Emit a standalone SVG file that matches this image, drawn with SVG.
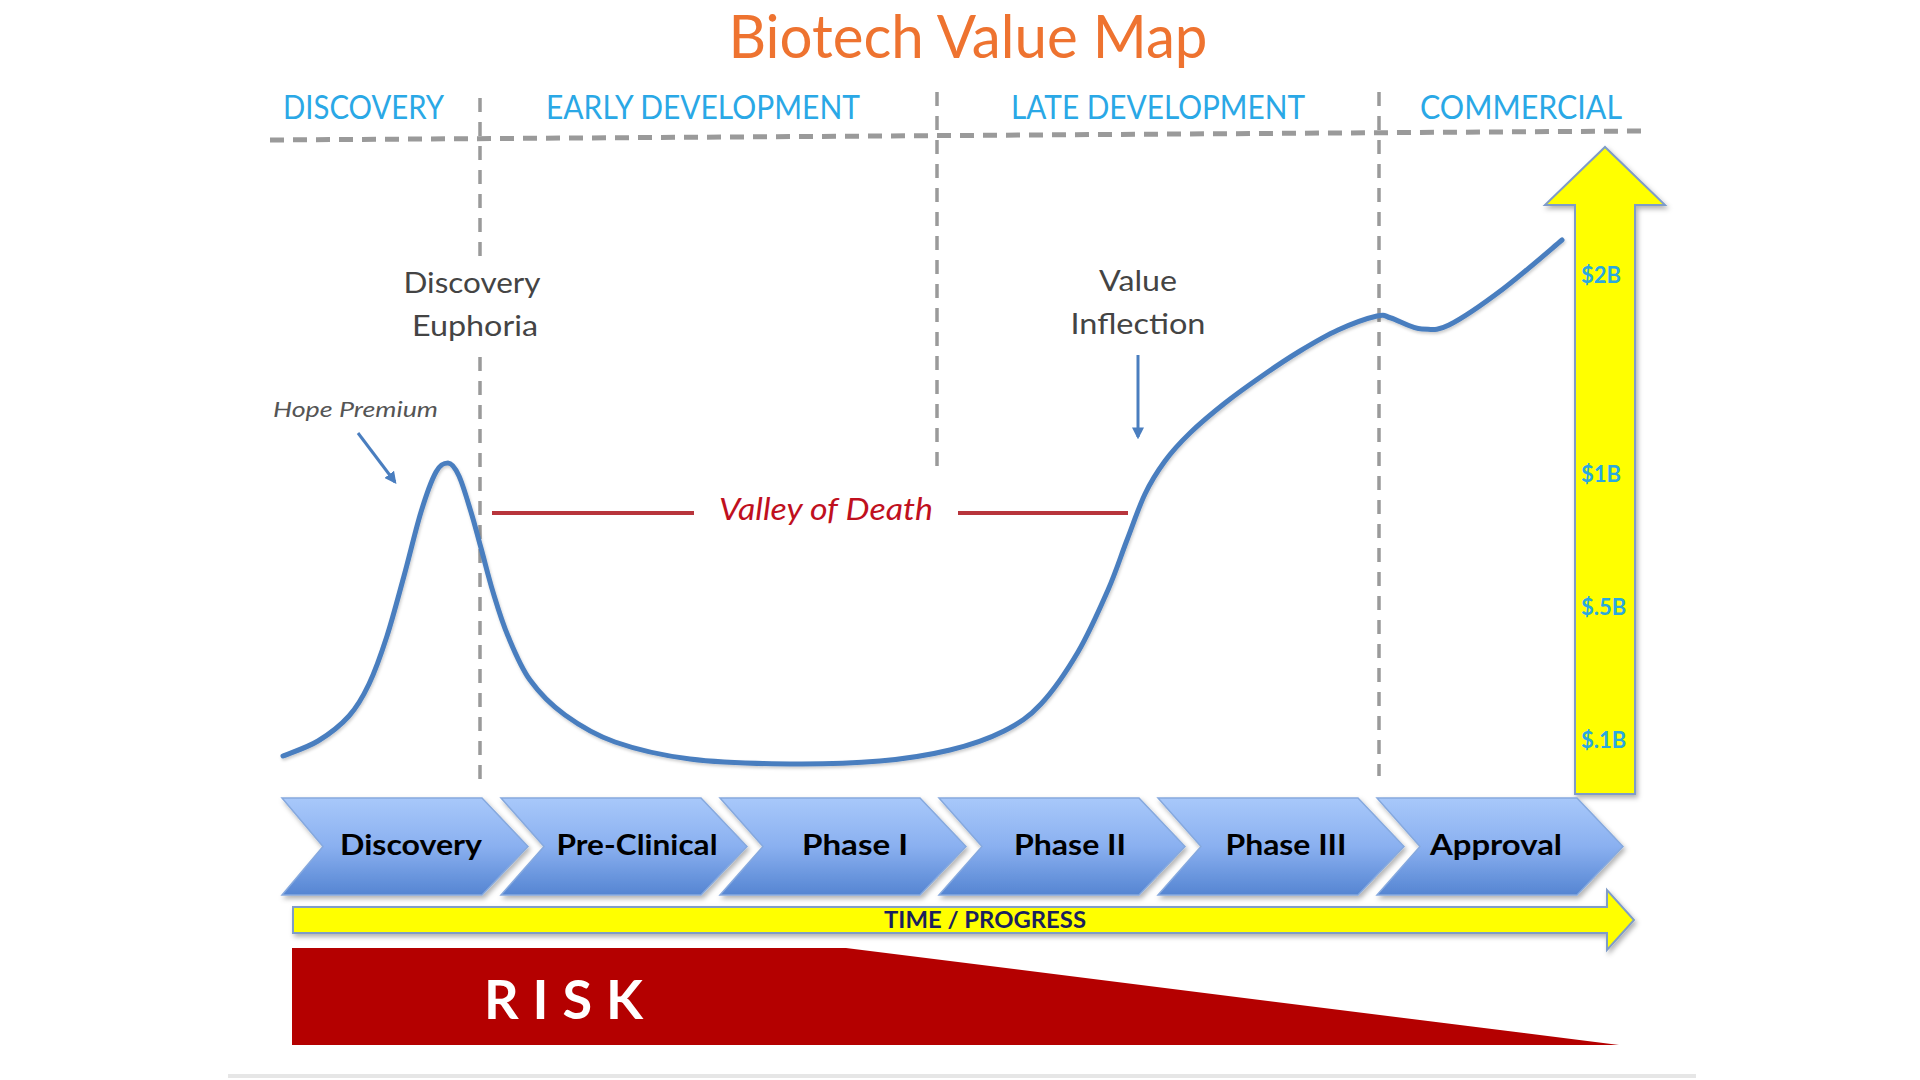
<svg xmlns="http://www.w3.org/2000/svg" width="1920" height="1080" viewBox="0 0 1920 1080">
<defs>
<style>
text{font-family:Lato,"Open Sans","Liberation Sans",sans-serif}
.title{font-size:60px;fill:#EE7330}
.phase{font-size:33px;fill:#2AA8E6}
.note{font-size:29px;fill:#444}
.hope{font-size:22px;fill:#555;font-style:italic}
.valley{font-size:31px;fill:#C0101E;font-style:italic}
.money{font-size:22px;font-weight:bold;fill:#2AA8E0}
.chev{fill:url(#chevGrad);stroke:#86A9DE;stroke-width:1.5;filter:url(#shadow)}
.chevtxt{font-size:29px;font-weight:bold;fill:#000;text-anchor:middle}
.vdash{stroke:#9A9A9A;stroke-width:3.5;stroke-dasharray:14 10;fill:none}
.hdash{stroke:#9A9A9A;stroke-width:5;stroke-dasharray:14 9;fill:none}
.curve{fill:none;stroke:#4A7EBF;stroke-width:5;stroke-linecap:round;filter:url(#shadow2)}
.ptr{stroke:#4A7EBF;stroke-width:3;fill:none;marker-end:url(#ah)}
.vod{stroke:#B8353C;stroke-width:4}
.yel{fill:#FFFF00;stroke:#7F9CC8;stroke-width:2;filter:url(#shadow)}
</style>
<linearGradient id="chevGrad" x1="0" y1="0" x2="0" y2="1">
<stop offset="0" stop-color="#A8C8FA"/>
<stop offset="0.5" stop-color="#8AB0F0"/>
<stop offset="1" stop-color="#5585D2"/>
</linearGradient>
<filter id="shadow" x="-5%" y="-10%" width="115%" height="130%">
<feDropShadow dx="2" dy="3" stdDeviation="2.5" flood-color="#000" flood-opacity="0.3"/>
</filter>
<filter id="shadow2" x="-5%" y="-5%" width="110%" height="115%">
<feDropShadow dx="1" dy="2" stdDeviation="1.5" flood-color="#000" flood-opacity="0.2"/>
</filter>
<marker id="ah" viewBox="0 0 10 10" refX="8" refY="5" markerWidth="4" markerHeight="4" orient="auto">
<path d="M0,0 L10,5 L0,10 z" fill="#4A7EBF"/>
</marker>
</defs>
<rect width="1920" height="1080" fill="#FFFFFF"/>

<g id="title">
<text class="title" x="968" y="58" text-anchor="middle" textLength="479" lengthAdjust="spacingAndGlyphs">Biotech Value Map</text>
</g>

<g id="stage-headers">
<text class="phase" x="283" y="119" textLength="161" lengthAdjust="spacingAndGlyphs">DISCOVERY</text>
<text class="phase" x="546" y="119" textLength="314" lengthAdjust="spacingAndGlyphs">EARLY DEVELOPMENT</text>
<text class="phase" x="1011" y="119" textLength="294" lengthAdjust="spacingAndGlyphs">LATE DEVELOPMENT</text>
<text class="phase" x="1420" y="119" textLength="202" lengthAdjust="spacingAndGlyphs">COMMERCIAL</text>
</g>

<g id="grid-lines">
<line class="hdash" x1="270" y1="140" x2="1641" y2="131"/>
<line class="vdash" x1="480" y1="98" x2="480" y2="256"/>
<line class="vdash" x1="480" y1="357" x2="480" y2="784"/>
<line class="vdash" x1="937" y1="92" x2="937" y2="471"/>
<line class="vdash" x1="1379" y1="92" x2="1379" y2="776"/>
</g>

<g id="value-axis">
<polygon class="yel" points="1575,794 1575,205 1545,205 1605,147 1665,205 1635,205 1635,794"/>
<text class="money" x="1581" y="283">$2B</text>
<text class="money" x="1581" y="482">$1B</text>
<text class="money" x="1581" y="615">$.5B</text>
<text class="money" x="1581" y="748">$.1B</text>
</g>

<g id="connectors">
<path class="curve" d="M283,756 C288.8,753.5 307,747.7 318,741 C329,734.3 340.5,725.5 349,716 C357.5,706.5 362.7,697.3 369,684 C375.3,670.7 381.2,654 387,636 C392.8,618 398.3,596.7 404,576 C409.7,555.3 415.7,529.3 421,512 C426.3,494.7 431.5,480.2 436,472 C440.5,463.8 444.2,463 448,463 C451.8,463 455.2,467.8 459,476 C462.8,484.2 467.3,500 471,512 C474.7,524 477.3,534.7 481,548 C484.7,561.3 488.5,577.3 493,592 C497.5,606.7 501.8,621.3 508,636 C514.2,650.7 520.5,666.8 530,680 C539.5,693.2 550.8,704.7 565,715 C579.2,725.3 594.2,734.7 615,742 C635.8,749.3 660.8,755.3 690,759 C719.2,762.7 758.3,763.7 790,764 C821.7,764.3 853.3,763.3 880,761 C906.7,758.7 929.3,755 950,750 C970.7,745 988.8,738.7 1004,731 C1019.2,723.3 1028.7,717.2 1041,704 C1053.3,690.8 1066.8,671 1078,652 C1089.2,633 1099.8,608.7 1108,590 C1116.2,571.3 1120.8,556 1127,540 C1133.2,524 1138.7,507.2 1145,494 C1151.3,480.8 1157.5,471.2 1165,461 C1172.5,450.8 1180,442.7 1190,433 C1200,423.3 1213,412.5 1225,403 C1237,393.5 1249.5,384.7 1262,376 C1274.5,367.3 1287.3,358.7 1300,351 C1312.7,343.3 1325.2,335.8 1338,330 C1350.8,324.2 1368.2,318 1377,316 C1385.8,314 1383.5,315.8 1391,318 C1398.5,320.2 1412.3,329 1422,329 C1431.7,329 1435.5,331.7 1449,325 C1462.5,318.3 1484.2,303.2 1503,289 C1521.8,274.8 1552.2,248.2 1562,240"/>
<line class="ptr" x1="358" y1="433" x2="395" y2="482"/>
<line class="ptr" x1="1138" y1="355" x2="1138" y2="437"/>
<line class="vod" x1="492" y1="513" x2="694" y2="513"/>
<line class="vod" x1="958" y1="513" x2="1128" y2="513"/>
</g>

<g id="discovery-euphoria">
<rect x="400" y="262" width="150" height="90" fill="#FFFFFF"/>
<text class="note" x="472" y="293" text-anchor="middle" textLength="137" lengthAdjust="spacingAndGlyphs">Discovery</text>
<text class="note" x="475" y="336" text-anchor="middle" textLength="126" lengthAdjust="spacingAndGlyphs">Euphoria</text>
</g>

<g id="hope-premium">
<text class="hope" x="273" y="417" textLength="165" lengthAdjust="spacingAndGlyphs">Hope Premium</text>
</g>

<g id="value-inflection">
<text class="note" x="1138" y="291" text-anchor="middle" textLength="78" lengthAdjust="spacingAndGlyphs">Value</text>
<text class="note" x="1138" y="334" text-anchor="middle" textLength="135" lengthAdjust="spacingAndGlyphs">Inflection</text>
</g>

<g id="valley-of-death">
<text class="valley" x="719" y="520" textLength="214" lengthAdjust="spacingAndGlyphs">Valley of Death</text>
</g>

<g id="chevron-discovery">
<polygon class="chev" points="282,798 482,798 528,846.5 482,895 282,895 323,846.5"/>
<text class="chevtxt" x="411" y="855" textLength="142" lengthAdjust="spacingAndGlyphs">Discovery</text>
</g>
<g id="chevron-preclinical">
<polygon class="chev" points="501,798 701,798 747,846.5 701,895 501,895 544,846.5"/>
<text class="chevtxt" x="637" y="855" textLength="161" lengthAdjust="spacingAndGlyphs">Pre-Clinical</text>
</g>
<g id="chevron-phase1">
<polygon class="chev" points="720,798 920,798 966,846.5 920,895 720,895 763,846.5"/>
<text class="chevtxt" x="855" y="855" textLength="106" lengthAdjust="spacingAndGlyphs">Phase I</text>
</g>
<g id="chevron-phase2">
<polygon class="chev" points="939,798 1139,798 1185,846.5 1139,895 939,895 982,846.5"/>
<text class="chevtxt" x="1070" y="855" textLength="112" lengthAdjust="spacingAndGlyphs">Phase II</text>
</g>
<g id="chevron-phase3">
<polygon class="chev" points="1158,798 1358,798 1404,846.5 1358,895 1158,895 1201,846.5"/>
<text class="chevtxt" x="1286" y="855" textLength="121" lengthAdjust="spacingAndGlyphs">Phase III</text>
</g>
<g id="chevron-approval">
<polygon class="chev" points="1377,798 1577,798 1623,846.5 1577,895 1377,895 1420,846.5"/>
<text class="chevtxt" x="1496" y="855" textLength="132" lengthAdjust="spacingAndGlyphs">Approval</text>
</g>

<g id="time-progress">
<polygon class="yel" points="293,907 1607,907 1607,890 1634,920 1607,950 1607,933 293,933"/>
<text x="985" y="928" text-anchor="middle" font-size="22" font-weight="bold" fill="#1A1F5E" textLength="202" lengthAdjust="spacingAndGlyphs">TIME / PROGRESS</text>
</g>

<g id="risk">
<polygon points="292,948 846,948 1619,1045 292,1045" fill="#B40000"/>
<text x="484" y="1019" font-size="54" font-weight="bold" fill="#FFFFFF" textLength="159" lengthAdjust="spacing">RISK</text>
</g>

<line x1="228" y1="1076" x2="1696" y2="1076" stroke="#E6E6E6" stroke-width="4"/>
</svg>
